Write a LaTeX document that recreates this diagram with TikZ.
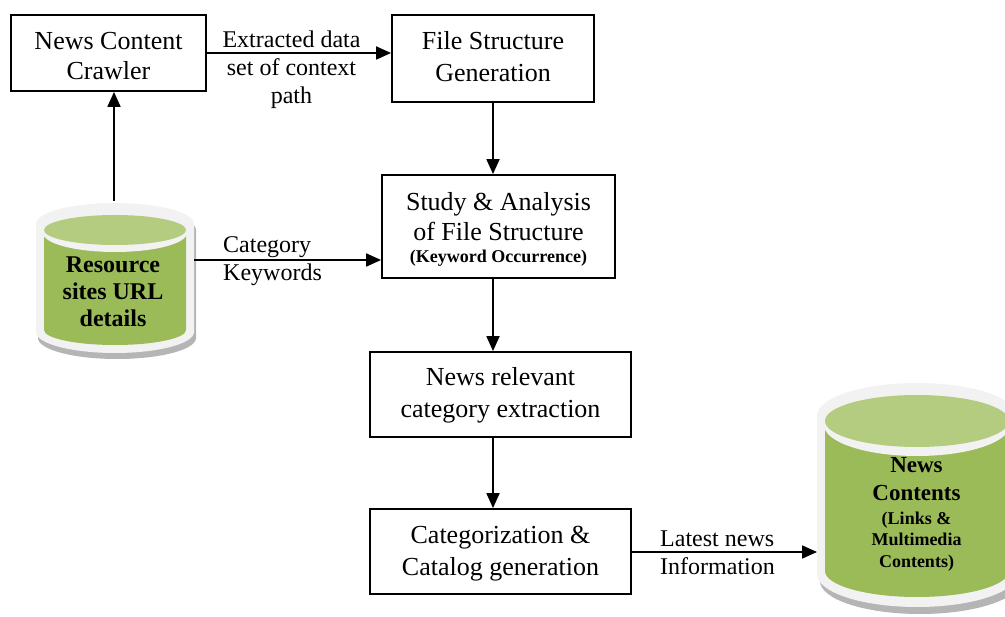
\documentclass[tikz,border=0pt]{standalone}
\usepackage{fontspec}
\setmainfont{Liberation Serif}
\usetikzlibrary{arrows.meta}
\definecolor{rim}{HTML}{F2F2F2}
\definecolor{drumbody}{HTML}{9BBB59}
\definecolor{lid}{HTML}{B3CC80}
\definecolor{drumshade}{HTML}{B5B5B5}
\begin{document}
\begin{tikzpicture}[x=1pt,y=-1pt,
  every node/.style={inner sep=0pt, align=center, text depth=0pt},
  procbox/.style={draw, line width=1.8pt},
  boxtext/.style={font=\fontsize{26}{#1}\selectfont},
  boxtext/.default=32,
  lbl/.style={font=\fontsize{24}{28}\selectfont},
  flow/.style={line width=1.8pt, -{Triangle[length=15pt,width=13pt]}}]
\useasboundingbox (0,0) rectangle (1005,617);

% ---------- process boxes ----------
\node[procbox, minimum width=195pt, minimum height=76pt] (crawl) at (108.5,53) {};
\node[boxtext=30] (crawlT) at (108.5,56) {News Content\\Crawler};
\node[procbox, minimum width=202pt, minimum height=87pt] (file) at (493,58.5) {};
\node[boxtext] (fileT) at (493,56.5) {File Structure\\Generation};
\node[procbox, minimum width=233pt, minimum height=103pt] (study) at (498.5,226.5) {};
\node[boxtext=30] (studyT) at (498.5,227)
  {Study \& Analysis\\of File Structure\\[-8pt]\bfseries\fontsize{18}{22}\selectfont (Keyword Occurrence)};
\node[procbox, minimum width=261pt, minimum height=85pt] (rel) at (500.5,394.5) {};
\node[boxtext] (relT) at (500.5,392.5) {News relevant\\category extraction};
\node[procbox, minimum width=261pt, minimum height=85pt] (cat) at (500.5,551.5) {};
\node[boxtext] (catT) at (500.5,551) {Categorization \&\\Catalog generation};

% ---------- left database drum ----------
\fill[drumshade] (38,230) -- (38,338) arc[start angle=180,end angle=360,x radius=79pt,y radius=21pt]
  -- (196,230) arc[start angle=0,end angle=180,x radius=79pt,y radius=21pt] -- cycle;
\fill[rim] (36,224) -- (36,332) arc[start angle=180,end angle=360,x radius=79pt,y radius=21pt]
  -- (194,224) arc[start angle=0,end angle=180,x radius=79pt,y radius=21pt] -- cycle;
\fill[drumbody] (44,236) -- (44,330) arc[start angle=180,end angle=360,x radius=71pt,y radius=15pt]
  -- (186,236) -- cycle;
\fill[rim] (115,233) ellipse[x radius=72pt,y radius=19pt];
\fill[lid] (115,230) ellipse[x radius=71pt,y radius=15pt];
\node[font=\bfseries\fontsize{24}{27}\selectfont] (res) at (113,291.5) {Resource\\sites URL\\details};
\coordinate (resTop) at (114,201);
\coordinate (resRight) at (194,260);

% ---------- right database drum ----------
\fill[drumshade] (820,423) -- (820,581) arc[start angle=180,end angle=360,x radius=100pt,y radius=33pt]
  -- (1020,423) arc[start angle=0,end angle=180,x radius=100pt,y radius=33pt] -- cycle;
\fill[rim] (817,416) -- (817,574) arc[start angle=180,end angle=360,x radius=100pt,y radius=33pt]
  -- (1017,416) arc[start angle=0,end angle=180,x radius=100pt,y radius=33pt] -- cycle;
\fill[drumbody] (825,430) -- (825,571) arc[start angle=180,end angle=360,x radius=92pt,y radius=26pt]
  -- (1009,430) -- cycle;
\fill[rim] (917,425) ellipse[x radius=93pt,y radius=31pt];
\fill[lid] (917,421) ellipse[x radius=92pt,y radius=26pt];
\node[font=\bfseries\fontsize{18}{21.5}\selectfont] (news) at (916.5,512.5)
  {\fontsize{23}{27}\selectfont News\\[6pt]\fontsize{23}{27}\selectfont Contents\\[2.5pt](Links \&\\Multimedia\\Contents)};
\coordinate (newsLeft) at (817,552);

% ---------- connectors ----------
\draw[flow] (resTop) -- (resTop |- crawl.south);
\draw[flow] (crawl.east |- 0,53) -- (file.west |- 0,53);
\draw[flow] (file.south) -- (file.south |- study.north);
\draw[flow] (file.south |- study.south) -- (file.south |- rel.north);
\draw[flow] (file.south |- rel.south) -- (file.south |- cat.north);
\draw[flow] (resRight) -- (resRight -| study.west);
\draw[flow] (cat.east |- newsLeft) -- (newsLeft);

% ---------- connector labels ----------
\node[lbl] (lblA) at (291.5,67) {Extracted data\\set of context\\path};
\node[lbl, anchor=west, align=left] (lblB) at (223,259) {Category\\Keywords};
\node[lbl, anchor=west, align=left] (lblC) at (660,552.5) {Latest news\\Information};
\end{tikzpicture}
\end{document}
